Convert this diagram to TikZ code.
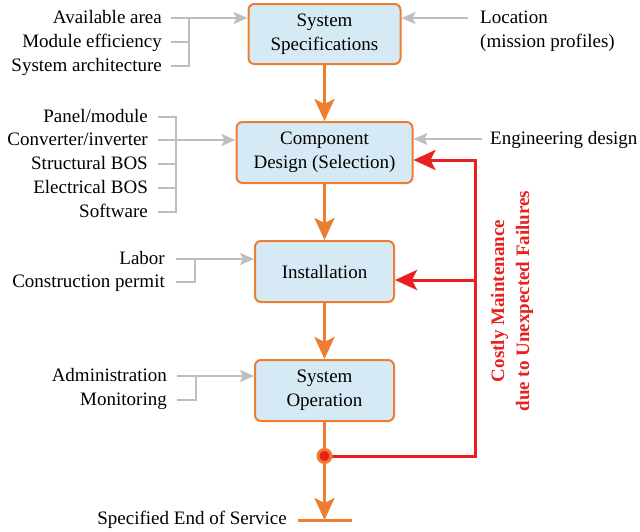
\documentclass[tikz,border=0pt]{standalone}
\usepackage{fontspec}
\setmainfont{LiberationSerif}[Extension=.ttf,UprightFont=*-Regular,BoldFont=*-Bold,ItalicFont=*-Italic,BoldItalicFont=*-BoldItalic]
\usetikzlibrary{arrows.meta,calc}
\definecolor{bord}{RGB}{237,125,49}
\definecolor{boxfill}{RGB}{214,234,245}
\definecolor{fbred}{RGB}{232,32,32}
\definecolor{ingray}{RGB}{190,190,190}
\begin{document}
\begin{tikzpicture}[x=1pt,y=-1pt,font=\rmfamily\fontsize{19}{24}\selectfont,
  box/.style={draw=bord,line width=2pt,fill=boxfill,rounded corners=6pt,align=center,inner sep=0pt},
  lbl/.style={anchor=east,inner sep=0pt,text height=14pt,text depth=3pt},
  rlbl/.style={anchor=west,inner sep=0pt,text height=14pt,text depth=3pt},
  gline/.style={draw=ingray,line width=2pt},
  garrow/.style={gline,-{Stealth[length=14pt,width=12pt,inset=3pt]}},
  oline/.style={draw=bord,line width=3pt},
  oarrow/.style={oline,-{Stealth[length=22pt,width=20pt,inset=5pt]}},
  rline/.style={draw=fbred,line width=3pt},
  rarrow/.style={rline,-{Stealth[length=22pt,width=20pt,inset=5pt]}},
  dotnode/.style={circle,draw=bord,line width=3pt,fill=fbred,minimum size=13pt,inner sep=0pt}]
\useasboundingbox (0,0) rectangle (640,531);
% boxes
\node[box,minimum width=152pt,minimum height=60pt] (spec) at (324.5,34) {System\\Specifications};
\node[box,minimum width=176pt,minimum height=61pt] (comp) at (324.5,152.5) {Component\\Design (Selection)};
\node[box,minimum width=139pt,minimum height=61pt] (inst) at (324.5,271.5) {Installation};
\node[box,minimum width=139pt,minimum height=61pt] (oper) at (324.5,390.5) {System\\Operation};
% left labels
\node[lbl] (avail) at (162,18) {Available area};
\node[lbl] (modeff) at (162,42) {Module efficiency};
\node[lbl] (arch) at (162,66) {System architecture};
\node[lbl] (panel) at (148,117) {Panel/module};
\node[lbl] (conv) at (148,140) {Converter/inverter};
\node[lbl] (struct) at (148,164) {Structural BOS};
\node[lbl] (elec) at (148,188) {Electrical BOS};
\node[lbl] (soft) at (148,212) {Software};
\node[lbl] (labor) at (165,259) {Labor};
\node[lbl] (permit) at (165,282) {Construction permit};
\node[lbl] (admin) at (167,376) {Administration};
\node[lbl] (monit) at (167,400) {Monitoring};
% right labels
\node[rlbl] (loc) at (480,18) {Location};
\node[rlbl] (mission) at (480,42) {(mission profiles)};
\node[rlbl] (eng) at (490,139) {Engineering design};
\node[lbl] (endserv) at (287,519) {Specified End of Service};
% gray inputs
\coordinate (j1) at (189,18);
\draw[garrow] ([xshift=9pt]avail.east) -- (spec.west |- avail.east);
\draw[gline] ([xshift=9pt]modeff.east) -| (j1);
\draw[gline] ([xshift=9pt]arch.east) -| (j1);
\coordinate (j2) at (176,140);
\draw[garrow] ([xshift=10pt]conv.east) -- (comp.west |- conv.east);
\draw[gline] ([xshift=10pt]panel.east) -| (j2);
\draw[gline] ([xshift=10pt]struct.east) -| (j2);
\draw[gline] ([xshift=10pt]elec.east) -| (j2);
\draw[gline] ([xshift=10pt]soft.east) -| (j2);
\coordinate (j3) at (195,259);
\draw[garrow] ([xshift=11pt]labor.east) -- (inst.west |- labor.east);
\draw[gline] ([xshift=11pt]permit.east) -| (j3);
\coordinate (j4) at (196,376);
\draw[garrow] ([xshift=10pt]admin.east) -- (oper.west |- admin.east);
\draw[gline] ([xshift=10pt]monit.east) -| (j4);
\draw[garrow] ([xshift=-12pt]loc.west) -- (spec.east |- loc.west);
\draw[garrow] ([xshift=-8pt]eng.west) -- (comp.east |- eng.west);
% main flow
\draw[oarrow] (spec) -- (comp);
\draw[oarrow] (comp) -- (inst);
\draw[oarrow] (inst) -- (oper);
\coordinate (dotc) at (324.5,456);
\coordinate (endc) at (324.5,520);
\draw[oline] (oper) -- (dotc);
\draw[oarrow] (dotc) -- (endc);
\draw[oline] ([xshift=-27pt]endc) -- ([xshift=27pt]endc);
% feedback
\coordinate (rc) at (475,456);
\coordinate (fb2) at ([yshift=-7.5pt]comp.east);
\coordinate (fb3) at ([yshift=-8.5pt]inst.east);
\draw[rarrow] (dotc) -| (rc |- fb2) -- (fb2);
\draw[rarrow] (rc |- fb3) -- (fb3);
\node[dotnode] (dot) at (dotc) {};
\node[rotate=90,align=center,text=fbred,font=\rmfamily\bfseries\fontsize{19}{25}\selectfont] (fail) at (512,301) {Costly Maintenance\\due to Unexpected Failures};
\end{tikzpicture}
\end{document}
